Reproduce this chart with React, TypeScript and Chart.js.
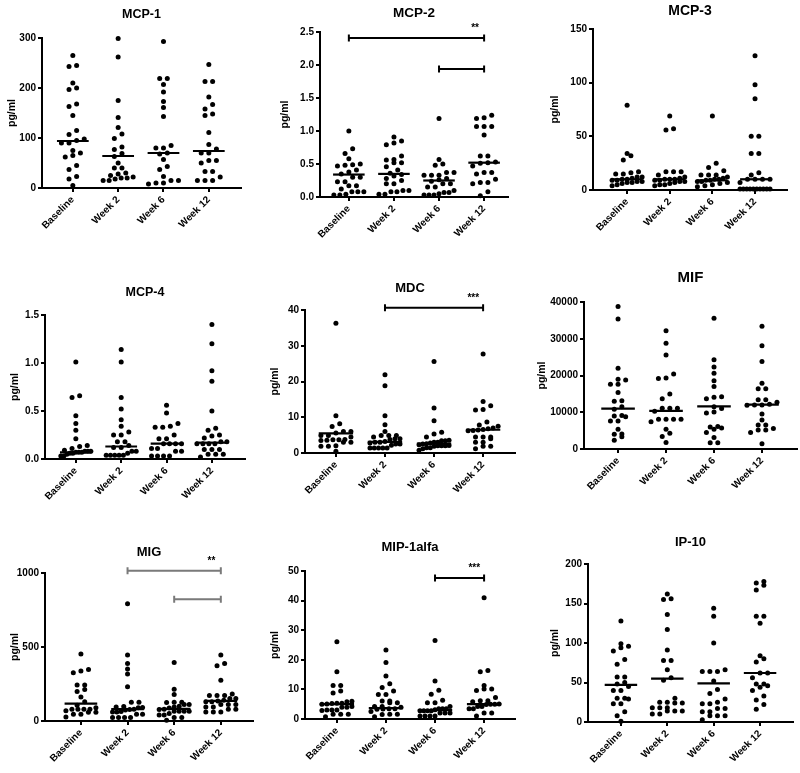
import React, { useEffect, useRef } from "react";
import { Chart, registerables } from "chart.js";

Chart.register(...registerables);

const FONT = '"Liberation Sans", Arial, Helvetica, sans-serif';
const GROUPS = ["Baseline", "Week 2", "Week 6", "Week 12"];

// ---------- data (pg/ml), one list per time point ----------
const MCP1_BASELINE = [265, 245, 243, 210, 200, 197, 168, 163, 145, 115, 107, 98, 95, 90, 90, 75, 70, 65, 62, 45, 37, 23, 18, 5];
const MCP1_WEEK2 = [299, 262, 175, 141, 121, 108, 99, 82, 77, 69, 63, 50, 40, 40, 30, 28, 25, 22, 20, 20, 18, 15, 15];
const MCP1_WEEK6 = [293, 219, 219, 207, 192, 173, 161, 143, 85, 80, 80, 70, 68, 57, 43, 37, 23, 15, 15, 10, 10, 8];
const MCP1_WEEK12 = [247, 213, 213, 182, 167, 158, 148, 145, 111, 87, 78, 70, 70, 55, 55, 50, 33, 33, 22, 15, 15, 15];
const MCP1_MEDIANS = [94, 64, 70, 74];

const MCP2_BASELINE = [1.0, 0.73, 0.66, 0.58, 0.5, 0.49, 0.48, 0.47, 0.41, 0.38, 0.35, 0.3, 0.3, 0.23, 0.23, 0.17, 0.17, 0.12, 0.08, 0.08, 0.08, 0.04, 0.03, 0.03];
const MCP2_WEEK2 = [0.91, 0.85, 0.82, 0.79, 0.62, 0.57, 0.56, 0.52, 0.52, 0.46, 0.41, 0.36, 0.34, 0.32, 0.28, 0.25, 0.2, 0.2, 0.1, 0.1, 0.08, 0.08, 0.04, 0.04];
const MCP2_WEEK6 = [1.19, 0.57, 0.5, 0.48, 0.37, 0.37, 0.33, 0.33, 0.33, 0.28, 0.26, 0.24, 0.2, 0.2, 0.15, 0.15, 0.1, 0.07, 0.07, 0.05, 0.03, 0.03, 0.03];
const MCP2_WEEK12 = [1.24, 1.2, 1.19, 1.07, 1.07, 1.07, 0.94, 0.62, 0.62, 0.53, 0.52, 0.51, 0.47, 0.37, 0.37, 0.35, 0.27, 0.22, 0.22, 0.2, 0.08, 0.02];
const MCP2_MEDIANS = [0.34, 0.35, 0.25, 0.52];

const MCP3_BASELINE = [79, 34, 32, 28, 17, 16, 15, 15, 12, 12, 11, 10, 10, 9, 9, 8, 8, 7, 7, 6, 5, 4];
const MCP3_WEEK2 = [69, 57, 56, 17, 17, 17, 14, 12, 11, 10, 10, 10, 9, 9, 8, 8, 7, 6, 5, 5, 4];
const MCP3_WEEK6 = [69, 25, 21, 18, 14, 14, 14, 12, 11, 10, 10, 9, 9, 8, 8, 7, 6, 5, 4, 3];
const MCP3_WEEK12 = [125, 98, 85, 50, 50, 34, 34, 16, 14, 10, 10, 10, 10, 7, 1, 1, 1, 1, 1, 1, 1, 1, 1, 1];
const MCP3_MEDIANS = [10, 10, 9, 10];

const MCP4_BASELINE = [1.01, 0.66, 0.64, 0.45, 0.37, 0.3, 0.21, 0.14, 0.13, 0.11, 0.09, 0.08, 0.08, 0.08, 0.07, 0.07, 0.07, 0.06, 0.06, 0.05, 0.03, 0.03];
const MCP4_WEEK2 = [1.14, 1.01, 0.64, 0.52, 0.41, 0.34, 0.28, 0.25, 0.25, 0.18, 0.18, 0.14, 0.12, 0.12, 0.08, 0.08, 0.06, 0.04, 0.04, 0.04, 0.04, 0.04];
const MCP4_WEEK6 = [0.56, 0.48, 0.37, 0.34, 0.33, 0.33, 0.25, 0.21, 0.21, 0.16, 0.16, 0.16, 0.16, 0.11, 0.11, 0.08, 0.08, 0.03, 0.03, 0.03, 0.03];
const MCP4_WEEK12 = [1.4, 1.2, 0.92, 0.81, 0.5, 0.32, 0.3, 0.25, 0.24, 0.22, 0.18, 0.18, 0.16, 0.16, 0.16, 0.16, 0.1, 0.1, 0.1, 0.05, 0.05, 0.05, 0.02];
const MCP4_MEDIANS = [0.07, 0.13, 0.16, 0.17];

const MDC_BASELINE = [36.3, 10.4, 8.2, 7.4, 6.0, 6.0, 5.6, 4.9, 4.9, 4.5, 3.8, 3.7, 3.7, 3.6, 3.5, 3.0, 3.0, 2.0, 1.9, 1.9, 0.5];
const MDC_WEEK2 = [21.9, 18.8, 10.4, 7.9, 6.0, 4.9, 4.9, 4.9, 4.5, 4.0, 4.0, 3.8, 3.2, 3.0, 3.0, 2.8, 2.5, 2.5, 2.2, 1.4, 1.4, 1.4, 1.4, 1.4];
const MDC_WEEK6 = [25.6, 12.6, 9.0, 5.8, 5.3, 4.5, 3.6, 3.4, 3.4, 3.0, 3.0, 2.8, 2.6, 2.5, 2.3, 2.1, 2.0, 2.0, 2.0, 1.9, 1.5, 1.5, 1.2, 0.8];
const MDC_WEEK12 = [27.7, 14.4, 13.2, 12.2, 12.0, 8.7, 7.8, 7.5, 7.0, 6.8, 6.6, 6.4, 6.3, 6.2, 4.5, 4.5, 4.5, 4.0, 3.0, 3.0, 1.9, 1.9, 1.2];
const MDC_MEDIANS = [5.5, 3.1, 2.6, 6.5];

const MIF_BASELINE = [38800, 35400, 22000, 19000, 18800, 17600, 17600, 15400, 13100, 13000, 11500, 10800, 9100, 9000, 8800, 7600, 7600, 5400, 4100, 4000, 3300, 2400];
const MIF_WEEK2 = [32200, 28800, 25600, 20400, 19300, 19200, 15000, 13700, 11100, 11100, 11100, 10300, 8100, 8100, 8100, 8100, 7400, 5400, 4300, 3400, 1800];
const MIF_WEEK6 = [35600, 24300, 22300, 20600, 18600, 17000, 14200, 14100, 13700, 11500, 11000, 10100, 9800, 6100, 6000, 5700, 5400, 4500, 3100, 1700, 1700];
const MIF_WEEK12 = [33400, 28100, 23800, 17900, 16400, 16400, 13400, 13400, 12700, 12200, 12000, 12000, 11900, 9500, 7900, 6500, 6500, 5600, 5200, 5200, 4500, 1400];
const MIF_MEDIANS = [11000, 10400, 11600, 12100];

const MIG_BASELINE = [452, 348, 337, 326, 244, 244, 213, 200, 163, 130, 106, 90, 79, 79, 79, 79, 70, 59, 59, 45, 45, 27];
const MIG_WEEK2 = [792, 446, 389, 351, 317, 231, 127, 127, 98, 95, 92, 90, 80, 78, 75, 65, 61, 61, 45, 45, 23, 23, 23, 23];
const MIG_WEEK6 = [396, 215, 179, 127, 127, 125, 111, 111, 100, 95, 88, 80, 78, 66, 66, 66, 66, 50, 41, 41, 23, 23, 5];
const MIG_WEEK12 = [446, 389, 373, 276, 183, 172, 172, 172, 152, 152, 140, 135, 130, 130, 111, 111, 111, 95, 95, 79, 79, 61, 61, 61];
const MIG_MEDIANS = [118, 80, 82, 136];

const MIP_BASELINE = [26.1, 16.0, 11.3, 11.3, 9.5, 8.8, 6.0, 5.8, 5.3, 5.3, 5.2, 5.1, 5.0, 4.2, 4.0, 4.0, 3.0, 3.0, 3.0, 2.9, 1.6, 1.6, 1.6, 0.8];
const MIP_WEEK2 = [23.3, 19.1, 14.5, 11.9, 10.6, 9.5, 8.3, 8.3, 6.1, 6.1, 5.5, 5.5, 4.2, 4.2, 4.0, 3.5, 3.5, 3.4, 3.3, 2.5, 1.6, 1.6, 1.5, 0.8];
const MIP_WEEK6 = [26.5, 12.8, 9.7, 8.4, 6.3, 5.5, 5.5, 4.2, 3.5, 3.5, 3.5, 3.1, 2.8, 2.8, 2.8, 2.8, 2.0, 2.0, 2.0, 1.0, 1.0, 1.0, 1.0];
const MIP_WEEK12 = [41.0, 16.4, 16.0, 11.3, 10.1, 10.1, 9.6, 7.3, 6.2, 6.2, 5.8, 5.1, 5.0, 5.0, 4.9, 4.2, 4.2, 3.5, 3.5, 2.0, 2.0, 1.0];
const MIP_MEDIANS = [5.0, 3.7, 3.0, 5.0];

const IP10_BASELINE = [128, 99, 96, 94, 90, 79, 73, 57, 57, 50, 48, 45, 40, 40, 30, 30, 29, 23, 23, 13, 8, 1];
const IP10_WEEK2 = [162, 156, 155, 136, 117, 91, 78, 78, 66, 56, 53, 30, 25, 25, 24, 24, 18, 18, 18, 14, 14, 14, 10, 10];
const IP10_WEEK6 = [144, 134, 100, 66, 64, 64, 64, 52, 41, 36, 29, 25, 23, 23, 17, 17, 13, 13, 8, 8, 8, 3];
const IP10_WEEK12 = [178, 176, 173, 167, 134, 134, 125, 84, 80, 76, 62, 62, 56, 48, 48, 46, 44, 40, 33, 28, 22, 16];
const IP10_MEDIANS = [47, 55, 49, 62];

// significance brackets: from/to = group index, y = data value
const MCP2_BRACKETS = [
  { from: 0, to: 3, y: 2.41, star: "**" },
  { from: 2, to: 3, y: 1.94, star: "" },
];
const MDC_BRACKETS = [{ from: 1, to: 3, y: 40.6, star: "***" }];
const MIG_BRACKETS = [
  { from: 1, to: 3, y: 1015, star: "**" },
  { from: 2, to: 3, y: 823, star: "" },
];
const MIP_BRACKETS = [{ from: 2, to: 3, y: 47.6, star: "***" }];

// ---------- layout ----------
const PAD_T = 40;
const PAD_R = 8;
const X_H = 62;
const ROW_H = 5;
const SPACING = 7.6;
const MAX_SPREAD = 30;
const MED_HALF = 0.35;

type Bracket = { from: number; to: number; y: number; star: string };
type PanelCfg = {
  title: string;
  titleSize: number;
  data: number[][];
  medians: number[];
  yMax: number;
  yStep: number;
  dec: number;
  brackets: Bracket[];
  bracketColor: string;
  box: { l: number; t: number; r: number; b: number };
  yGap: number;
  xMin: number;
  xMax: number;
  titleGap: number;
};

const PANELS: PanelCfg[] = [
  { title: "MCP-1", titleSize: 12.5, data: [MCP1_BASELINE, MCP1_WEEK2, MCP1_WEEK6, MCP1_WEEK12], medians: MCP1_MEDIANS, yMax: 300, yStep: 100, dec: 0, brackets: [], bracketColor: "#000", box: { l: 42, t: 38, r: 241, b: 188 }, yGap: 30, xMin: -0.68, xMax: 3.71, titleGap: 23 },
  { title: "MCP-2", titleSize: 13.5, data: [MCP2_BASELINE, MCP2_WEEK2, MCP2_WEEK6, MCP2_WEEK12], medians: MCP2_MEDIANS, yMax: 2.5, yStep: 0.5, dec: 1, brackets: MCP2_BRACKETS, bracketColor: "#000", box: { l: 320, t: 32, r: 508, b: 197 }, yGap: 35, xMin: -0.64, xMax: 3.53, titleGap: 19 },
  { title: "MCP-3", titleSize: 14, data: [MCP3_BASELINE, MCP3_WEEK2, MCP3_WEEK6, MCP3_WEEK12], medians: MCP3_MEDIANS, yMax: 150, yStep: 50, dec: 0, brackets: [], bracketColor: "#000", box: { l: 593, t: 29, r: 787, b: 190 }, yGap: 38, xMin: -0.8, xMax: 3.75, titleGap: 18 },
  { title: "MCP-4", titleSize: 12.5, data: [MCP4_BASELINE, MCP4_WEEK2, MCP4_WEEK6, MCP4_WEEK12], medians: MCP4_MEDIANS, yMax: 1.5, yStep: 0.5, dec: 1, brackets: [], bracketColor: "#000", box: { l: 45, t: 315, r: 245, b: 459 }, yGap: 30, xMin: -0.68, xMax: 3.73, titleGap: 22 },
  { title: "MDC", titleSize: 13, data: [MDC_BASELINE, MDC_WEEK2, MDC_WEEK6, MDC_WEEK12], medians: MDC_MEDIANS, yMax: 40, yStep: 10, dec: 0, brackets: MDC_BRACKETS, bracketColor: "#000", box: { l: 305, t: 310, r: 515, b: 453 }, yGap: 30, xMin: -0.63, xMax: 3.65, titleGap: 22 },
  { title: "MIF", titleSize: 15, data: [MIF_BASELINE, MIF_WEEK2, MIF_WEEK6, MIF_WEEK12], medians: MIF_MEDIANS, yMax: 40000, yStep: 10000, dec: 0, brackets: [], bracketColor: "#000", box: { l: 584, t: 302, r: 797, b: 449 }, yGap: 42, xMin: -0.71, xMax: 3.73, titleGap: 24 },
  { title: "MIG", titleSize: 13, data: [MIG_BASELINE, MIG_WEEK2, MIG_WEEK6, MIG_WEEK12], medians: MIG_MEDIANS, yMax: 1000, yStep: 500, dec: 0, brackets: MIG_BRACKETS, bracketColor: "#7a7a7a", box: { l: 45, t: 573, r: 253, b: 721 }, yGap: 30, xMin: -0.77, xMax: 3.69, titleGap: 21 },
  { title: "MIP-1alfa", titleSize: 13, data: [MIP_BASELINE, MIP_WEEK2, MIP_WEEK6, MIP_WEEK12], medians: MIP_MEDIANS, yMax: 50, yStep: 10, dec: 0, brackets: MIP_BRACKETS, bracketColor: "#000", box: { l: 305, t: 571, r: 515, b: 719 }, yGap: 30, xMin: -0.65, xMax: 3.63, titleGap: 24 },
  { title: "IP-10", titleSize: 13, data: [IP10_BASELINE, IP10_WEEK2, IP10_WEEK6, IP10_WEEK12], medians: IP10_MEDIANS, yMax: 200, yStep: 50, dec: 0, brackets: [], bracketColor: "#000", box: { l: 588, t: 564, r: 793, b: 722 }, yGap: 33, xMin: -0.71, xMax: 3.71, titleGap: 22 },
];

function makeDecor(cfg: PanelCfg) {
  return {
    id: "decor",
    afterDraw(chart: any) {
      const { ctx, chartArea, scales } = chart;
      const xs = scales.x;
      const ys = scales.y;
      ctx.save();
      ctx.fillStyle = "#000";
      ctx.textAlign = "center";
      ctx.textBaseline = "middle";
      ctx.font = `bold ${cfg.titleSize}px ${FONT}`;
      ctx.fillText(cfg.title, (chartArea.left + chartArea.right) / 2, chartArea.top - cfg.titleGap);
      ctx.strokeStyle = cfg.bracketColor;
      ctx.lineWidth = 2;
      for (const b of cfg.brackets) {
        const x1 = xs.getPixelForValue(b.from);
        const x2 = xs.getPixelForValue(b.to);
        const yy = ys.getPixelForValue(b.y);
        ctx.beginPath();
        ctx.moveTo(x1, yy);
        ctx.lineTo(x2, yy);
        ctx.moveTo(x1, yy - 3.5);
        ctx.lineTo(x1, yy + 3.5);
        ctx.moveTo(x2, yy - 3.5);
        ctx.lineTo(x2, yy + 3.5);
        ctx.stroke();
        if (b.star) {
          ctx.font = `bold 10px ${FONT}`;
          ctx.fillText(b.star, xs.getPixelForValue(b.to - 0.2), yy - 10);
        }
      }
      ctx.restore();
    },
  };
}

function swarm(chart: any, cfg: PanelCfg) {
  const xs = chart.scales.x;
  const ys = chart.scales.y;
  const unit = xs.getPixelForValue(1) - xs.getPixelForValue(0);
  cfg.data.forEach((vals, g) => {
    const sorted = vals.slice().sort((a, b) => a - b);
    const rows: number[][] = [];
    let start = -Infinity;
    for (const v of sorted) {
      const py = ys.getPixelForValue(v);
      if (rows.length && Math.abs(py - start) < ROW_H) rows[rows.length - 1].push(v);
      else {
        rows.push([v]);
        start = py;
      }
    }
    const pts: { x: number; y: number }[] = [];
    rows.forEach((row) => {
      const n = row.length;
      const sp = n > 1 ? Math.min(SPACING, MAX_SPREAD / (n - 1)) : 0;
      row.forEach((v, k) => pts.push({ x: g + ((k - (n - 1) / 2) * sp) / unit, y: v }));
    });
    chart.data.datasets[cfg.medians.length + g].data = pts;
  });
  chart.update();
}

function Panel({ cfg }: { cfg: PanelCfg }) {
  const ref = useRef<HTMLCanvasElement>(null);
  const W = cfg.yGap + 7;
  const left = cfg.box.l - W;
  const top = cfg.box.t - PAD_T;
  const width = W + (cfg.box.r - cfg.box.l) + PAD_R;
  const height = PAD_T + (cfg.box.b - cfg.box.t) + X_H;

  useEffect(() => {
    const canvas = ref.current;
    if (!canvas) return;
    const tickFont = { family: FONT, size: 10, weight: "bold" as const };
    const datasets: any[] = [];
    cfg.medians.forEach((m, i) =>
      datasets.push({
        data: [
          { x: i - MED_HALF, y: m },
          { x: i + MED_HALF, y: m },
        ],
        showLine: true,
        borderColor: "#000",
        borderWidth: 2.2,
        pointRadius: 0,
        order: 0,
        clip: false,
      })
    );
    cfg.data.forEach((vals, i) =>
      datasets.push({
        data: vals.map((v) => ({ x: i, y: v })),
        pointRadius: 2.5,
        backgroundColor: "#000",
        borderColor: "#000",
        borderWidth: 0,
        order: 1,
        clip: false,
      })
    );
    const chart = new Chart(canvas, {
      type: "scatter",
      data: { datasets },
      options: {
        animation: false,
        responsive: false,
        events: [],
        layout: { padding: { left: 0, top: PAD_T, right: PAD_R, bottom: 0 } },
        plugins: { legend: { display: false }, tooltip: { enabled: false }, title: { display: false } },
        scales: {
          x: {
            type: "linear",
            min: cfg.xMin,
            max: cfg.xMax,
            afterBuildTicks: (s: any) => {
              s.ticks = GROUPS.map((_, i) => ({ value: i }));
            },
            afterFit: (s: any) => {
              s.height = X_H;
            },
            ticks: {
              autoSkip: false,
              maxRotation: 45,
              minRotation: 45,
              color: "#000",
              font: tickFont,
              padding: 2,
              callback: (v: any) => GROUPS[Math.round(Number(v))] ?? "",
            },
            grid: { drawOnChartArea: false, drawTicks: true, tickLength: 4, color: "#000", lineWidth: 2 },
            border: { display: true, color: "#000", width: 2 },
          },
          y: {
            type: "linear",
            min: 0,
            max: cfg.yMax,
            afterFit: (s: any) => {
              s.width = W;
            },
            ticks: {
              stepSize: cfg.yStep,
              color: "#000",
              font: tickFont,
              padding: 2,
              callback: (v: any) => Number(v).toFixed(cfg.dec),
            },
            title: {
              display: true,
              text: "pg/ml",
              color: "#000",
              font: { family: FONT, size: 10.5, weight: "bold" as const },
              padding: { top: 1, bottom: 0 },
            },
            grid: { drawOnChartArea: false, drawTicks: true, tickLength: 4, color: "#000", lineWidth: 2 },
            border: { display: true, color: "#000", width: 2 },
          },
        },
      } as any,
      plugins: [makeDecor(cfg)],
    });
    swarm(chart, cfg);
    return () => chart.destroy();
  }, [cfg]);

  return (
    <canvas
      ref={ref}
      width={width}
      height={height}
      style={{ position: "absolute", left, top, width, height }}
    />
  );
}

export default function App() {
  return (
    <div
      style={{
        position: "absolute",
        left: 0,
        top: 0,
        width: 800,
        height: 773,
        overflow: "hidden",
        background: "#fff",
      }}
    >
      {PANELS.map((p) => (
        <Panel key={p.title} cfg={p} />
      ))}
    </div>
  );
}
